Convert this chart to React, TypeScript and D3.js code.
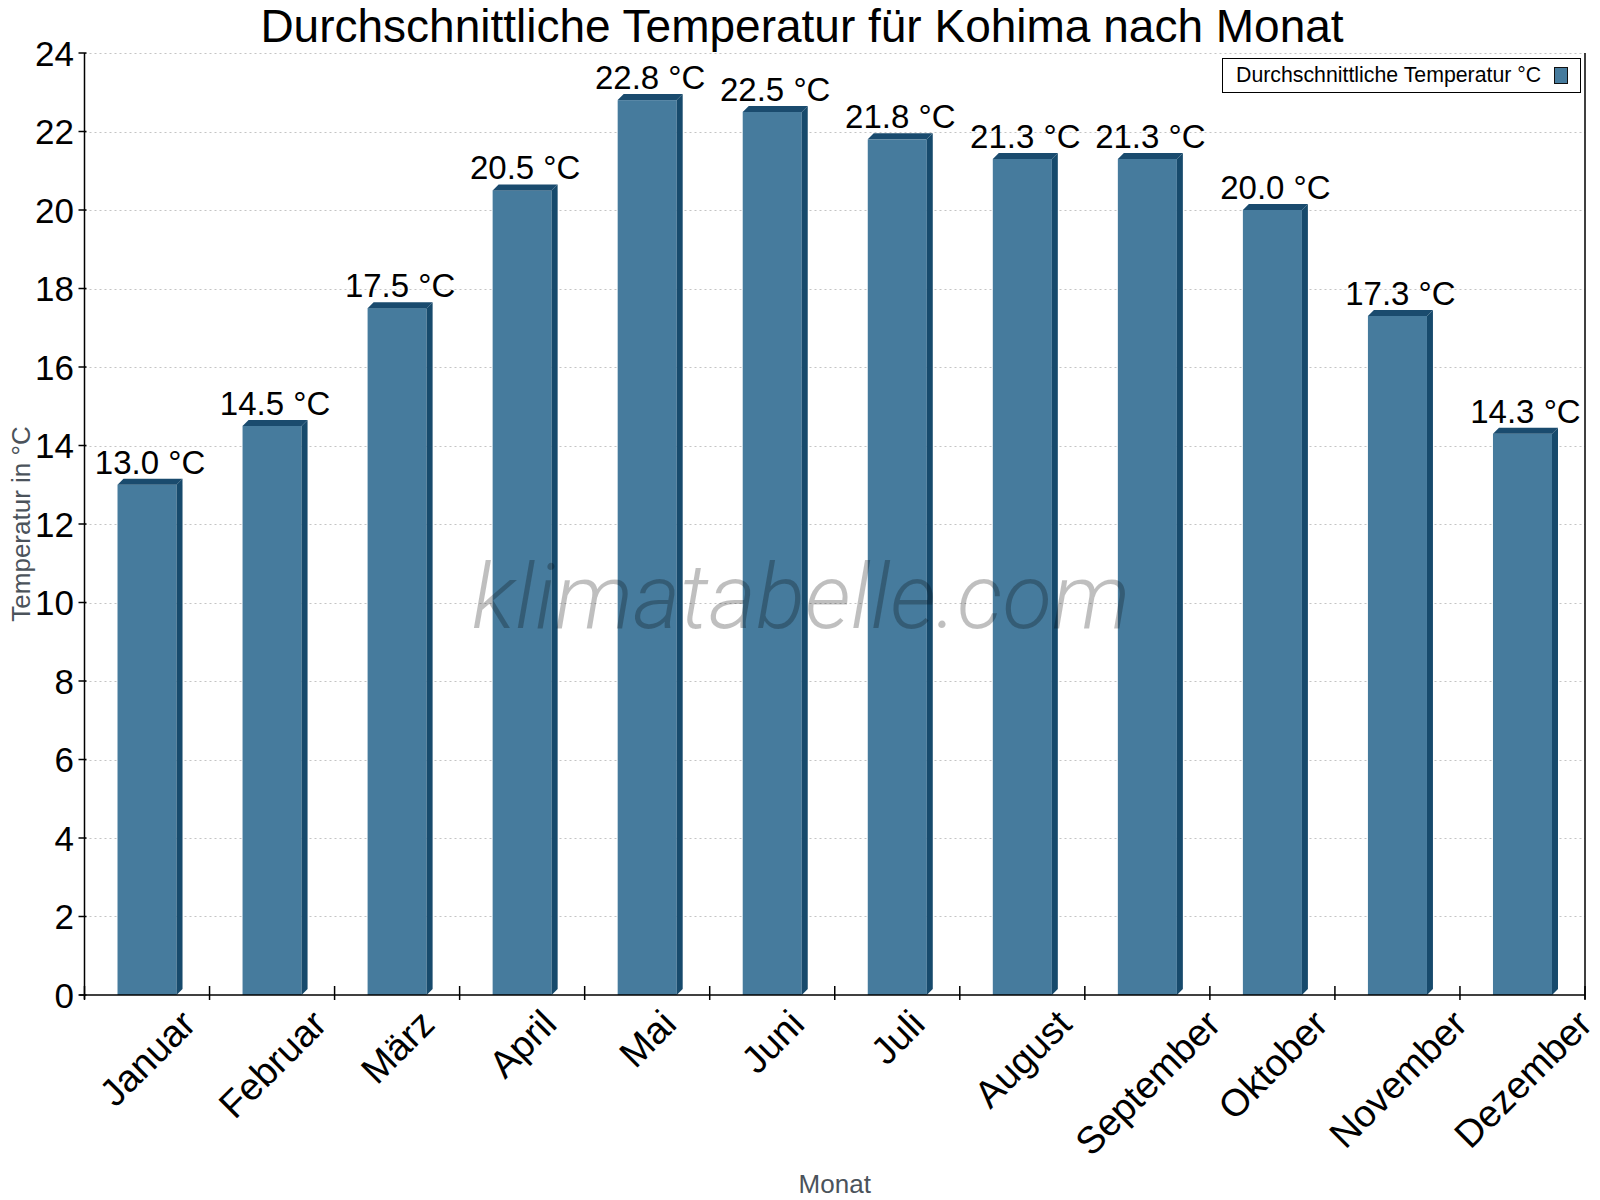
import * as React from 'react'
import { useEffect, useRef } from 'react'
import * as d3 from 'd3'

const months = ['Januar', 'Februar', 'März', 'April', 'Mai', 'Juni', 'Juli', 'August', 'September', 'Oktober', 'November', 'Dezember']
const avgTemp = [13.0, 14.5, 17.5, 20.5, 22.8, 22.5, 21.8, 21.3, 21.3, 20.0, 17.3, 14.3]
const yTicks = [0, 2, 4, 6, 8, 10, 12, 14, 16, 18, 20, 22, 24]

const TITLE = 'Durchschnittliche Temperatur für Kohima nach Monat'
const LEGEND = 'Durchschnittliche Temperatur °C'
const FONT = '"Liberation Sans", Arial, sans-serif'

export default function App() {
  const svgRef = useRef<SVGSVGElement>(null)

  useEffect(() => {
    if (!svgRef.current) return
    const svg = d3.select(svgRef.current)
    svg.selectAll('*').remove()

    const width = 1600
    const height = 1200
    const left = 84.5
    const right = 1585
    const top = 53
    const bottom = 995
    const depth = 6

    const x = d3.scaleBand<string>()
      .domain(months)
      .range([left, right])
      .paddingInner(0.528)
      .paddingOuter(0.264)
    const step = x.step()
    const y = d3.scaleLinear().domain([0, 24]).range([bottom, top])

    svg.append('rect').attr('width', width).attr('height', height).attr('fill', '#fff')

    // title
    svg.append('text')
      .attr('x', 802).attr('y', 42)
      .attr('text-anchor', 'middle')
      .attr('font-family', FONT).attr('font-size', 46)
      .attr('fill', '#000')
      .text(TITLE)

    // grid
    svg.append('g').selectAll('line')
      .data(yTicks.filter(t => t > 0))
      .join('line')
      .attr('x1', left).attr('x2', right)
      .attr('y1', d => Math.round(y(d)) + 0.5).attr('y2', d => Math.round(y(d)) + 0.5)
      .attr('stroke', '#c4c4c4').attr('stroke-width', 1)
      .attr('stroke-dasharray', '2,3')

    // bars
    const bars = svg.append('g').selectAll('g')
      .data(months.map((m, i) => ({ m, v: avgTemp[i] })))
      .join('g')

    bars.append('rect')
      .attr('x', d => x(d.m)!)
      .attr('y', d => y(d.v))
      .attr('width', x.bandwidth())
      .attr('height', d => bottom - y(d.v))
      .attr('fill', '#467b9d')

    bars.append('path')
      .attr('d', d => {
        const x0 = x(d.m)!
        const x1 = x0 + x.bandwidth()
        const yt = y(d.v)
        return `M${x0},${yt}L${x0 + depth},${yt - depth}L${x1 + depth},${yt - depth}L${x1},${yt}Z`
      })
      .attr('fill', '#1a4b6e')

    bars.append('path')
      .attr('d', d => {
        const x1 = x(d.m)! + x.bandwidth()
        const yt = y(d.v)
        return `M${x1},${yt}L${x1 + depth},${yt - depth}L${x1 + depth},${bottom - depth}L${x1},${bottom}Z`
      })
      .attr('fill', '#174a6c')

    bars.append('text')
      .attr('x', d => x(d.m)! + x.bandwidth() / 2 + depth / 2)
      .attr('y', d => y(d.v) - 11)
      .attr('text-anchor', 'middle')
      .attr('font-family', FONT).attr('font-size', 33)
      .attr('fill', '#000')
      .text(d => `${d.v.toFixed(1)} °C`)

    // axes
    const axes = svg.append('g').attr('stroke', '#000').attr('stroke-width', 1.5)
    axes.append('line').attr('x1', left).attr('x2', left).attr('y1', top).attr('y2', bottom + 4)
    axes.append('line').attr('x1', right).attr('x2', right).attr('y1', top).attr('y2', bottom + 4)
    axes.append('line').attr('x1', left - 5).attr('x2', right).attr('y1', bottom).attr('y2', bottom)

    axes.selectAll('.ytick')
      .data(yTicks)
      .join('line')
      .attr('class', 'ytick')
      .attr('x1', left - 6).attr('x2', left + 2)
      .attr('y1', d => y(d)).attr('y2', d => y(d))

    axes.selectAll('.xtick')
      .data(d3.range(months.length + 1))
      .join('line')
      .attr('class', 'xtick')
      .attr('x1', i => left + i * step).attr('x2', i => left + i * step)
      .attr('y1', bottom - 9).attr('y2', bottom + 5)

    svg.append('g').selectAll('text')
      .data(yTicks)
      .join('text')
      .attr('x', 74)
      .attr('y', d => y(d))
      .attr('dy', '0.36em')
      .attr('text-anchor', 'end')
      .attr('font-family', FONT).attr('font-size', 35)
      .attr('fill', '#000')
      .text(d => d)

    // month labels, rotated, bounding box top under the axis
    const xFont = 38
    const labelTop = 1007
    const xLabels = svg.append('g').selectAll('text')
      .data(months)
      .join('text')
      .attr('text-anchor', 'middle')
      .attr('font-family', FONT).attr('font-size', xFont)
      .attr('fill', '#000')
      .text(d => d)
    xLabels.each(function (d) {
      const el = this as SVGTextElement
      const w = el.getComputedTextLength()
      const cx = x(d)! + x.bandwidth() / 2
      const cy = labelTop + (w + xFont * 0.72) * Math.SQRT1_2 / 2
      d3.select(el)
        .attr('x', cx).attr('y', cy)
        .attr('dy', '0.36em')
        .attr('transform', `rotate(-45, ${cx}, ${cy})`)
    })

    // axis titles
    svg.append('text')
      .attr('transform', `translate(30, ${(top + bottom) / 2}) rotate(-90)`)
      .attr('text-anchor', 'middle')
      .attr('font-family', FONT).attr('font-size', 26)
      .attr('fill', '#4b535b')
      .text('Temperatur in °C')

    svg.append('text')
      .attr('x', (left + right) / 2).attr('y', 1193)
      .attr('text-anchor', 'middle')
      .attr('font-family', FONT).attr('font-size', 26)
      .attr('fill', '#4b535b')
      .text('Monat')

    // legend
    const legend = svg.append('g')
    legend.append('rect')
      .attr('x', 1222.5).attr('y', 58.5).attr('width', 358).attr('height', 34)
      .attr('fill', '#fff').attr('stroke', '#000').attr('stroke-width', 1)
    legend.append('text')
      .attr('x', 1236).attr('y', 82)
      .attr('font-family', FONT).attr('font-size', 21.3)
      .attr('fill', '#000')
      .text(LEGEND)
    legend.append('rect')
      .attr('x', 1554.5).attr('y', 67.5).attr('width', 13).attr('height', 16)
      .attr('fill', '#467b9d').attr('stroke', '#111').attr('stroke-width', 1)

    // watermark
    svg.append('text')
      .attr('x', 801).attr('y', 628)
      .attr('text-anchor', 'middle')
      .attr('font-family', 'Roboto, "Open Sans", sans-serif')
      .attr('font-style', 'italic').attr('font-weight', 300)
      .attr('font-size', 91)
      .attr('fill', 'rgba(0,0,0,0.25)')
      .text('klimatabelle.com')
  }, [])

  return (
    <div style={{ position: 'absolute', left: 0, top: 0 }}>
      <svg ref={svgRef} width={1600} height={1200} style={{ display: 'block' }} />
    </div>
  )
}
